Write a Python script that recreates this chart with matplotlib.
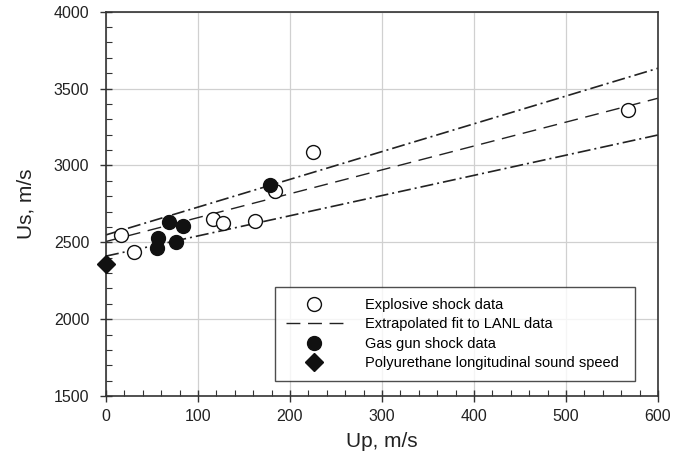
import matplotlib
matplotlib.use("Agg")
import matplotlib.pyplot as plt
from matplotlib.ticker import MultipleLocator

plt.rcParams['font.family'] = ['Liberation Sans', 'DejaVu Sans']

# Explosive shock data (open circles)
exp_up = [16, 30, 116, 127, 162, 184, 225, 567]
exp_us = [2550, 2435, 2652, 2626, 2637, 2835, 3088, 3362]

# Gas gun shock data (filled circles)
gas_up = [55, 57, 68, 76, 84, 178]
gas_us = [2466, 2528, 2632, 2505, 2607, 2874]

# Polyurethane longitudinal sound speed
snd_up = [0]
snd_us = [2357]

# Extrapolated fit and bounds
fit_up = [0, 600]
fit_us = [2505, 3437]
upper_us = [2548, 3632]
lower_us = [2410, 3198]

fig = plt.figure(figsize=(6.89, 4.75), dpi=100)
ax = fig.add_axes([0.1538, 0.1663, 0.8012, 0.8091])

ax.grid(True, color='#d0d0d0', linewidth=0.9, zorder=0)
ax.set_axisbelow(True)

ax.plot(fit_up, upper_us, color='#222222', lw=1.2, dashes=[7.8, 2.4, 1.2, 2.4], zorder=2)
ax.plot(fit_up, lower_us, color='#222222', lw=1.2, dashes=[7.8, 2.4, 1.2, 2.4], zorder=2)
ax.plot(fit_up, fit_us, color='#222222', lw=1.0, dashes=[10, 5.5], zorder=2,
        label='Extrapolated fit to LANL data')

ax.plot(exp_up, exp_us, 'o', ms=10, mfc='white', mec='#111111', mew=1.0,
        ls='none', zorder=3, label='Explosive shock data')
ax.plot(gas_up, gas_us, 'o', ms=10, mfc='#111111', mec='#111111',
        ls='none', zorder=4, label='Gas gun shock data')
ax.plot(snd_up, snd_us, 'D', ms=9, mfc='#111111', mec='#111111',
        ls='none', zorder=5, clip_on=False,
        label='Polyurethane longitudinal sound speed')

ax.set_xlim(0, 600)
ax.set_ylim(1500, 4000)
ax.xaxis.set_major_locator(MultipleLocator(100))
ax.xaxis.set_minor_locator(MultipleLocator(20))
ax.yaxis.set_major_locator(MultipleLocator(500))
ax.yaxis.set_minor_locator(MultipleLocator(100))
ax.tick_params(which='major', direction='inout', length=8, width=1.0,
               color='#333333', labelsize=11.5, labelcolor='#222222')
ax.tick_params(axis='x', which='major', pad=5)
ax.tick_params(axis='y', which='major', pad=8)
ax.tick_params(which='minor', direction='in', length=4, width=0.8, color='#333333')
for s in ax.spines.values():
    s.set_color('#333333')
    s.set_linewidth(1.2)

ax.set_xlabel('Up, m/s', fontsize=15, color='#222222', labelpad=6)
ax.set_ylabel('Us, m/s', fontsize=15, color='#222222', labelpad=13)

handles, labels = ax.get_legend_handles_labels()
order = [1, 0, 2, 3]
leg = ax.legend([handles[i] for i in order], [labels[i] for i in order],
                loc='lower left', bbox_to_anchor=(0.306, 0.039, 0.652, 0.242),
                mode='expand', fontsize=10.5, frameon=True, fancybox=False,
                edgecolor='#222222', handlelength=3.9, handletextpad=1.5,
                borderpad=0.75, borderaxespad=0, labelspacing=0.37,
                markerscale=1.0)
leg.get_frame().set_linewidth(1.0)

fig.savefig('out.png', dpi=100)
